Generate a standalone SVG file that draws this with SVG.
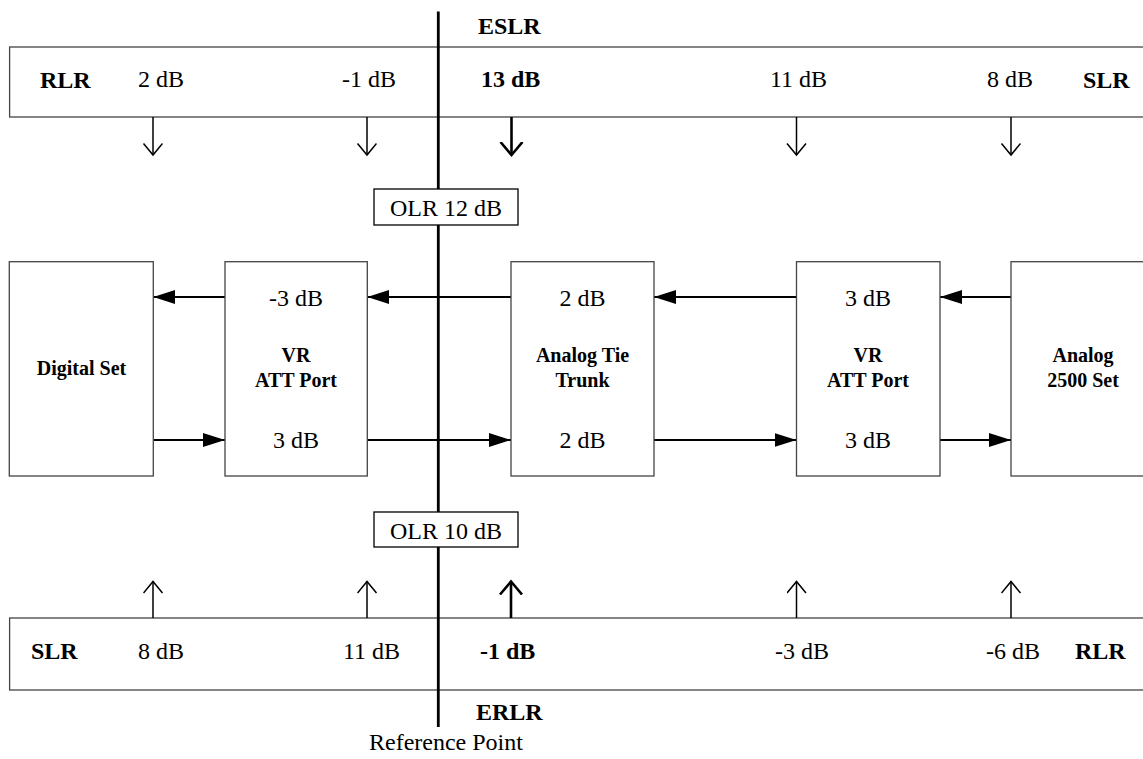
<svg xmlns="http://www.w3.org/2000/svg" width="1143" height="759" viewBox="0 0 1143 759">
<defs>
<style>
.t{font-family:"Liberation Serif","Times New Roman",serif;font-size:24px;fill:#000}
.b{font-weight:bold}
.n{font-family:"Liberation Serif","Times New Roman",serif;font-size:20px;font-weight:bold;fill:#000;text-anchor:middle}
.box{fill:#fff;stroke:#444;stroke-width:1.3}
.ln{stroke:#000;stroke-width:2;fill:none}
.thin{stroke:#000;stroke-width:1.5;fill:none}
.thick{stroke:#000;stroke-width:2.6;fill:none}
.mid{text-anchor:middle}
</style>
<marker id="tri" markerUnits="userSpaceOnUse" markerWidth="22" markerHeight="14" refX="22" refY="7" orient="auto" viewBox="0 0 22 14">
<path d="M0,0 L22,7 L0,14 Z" fill="#000"/>
</marker>
<marker id="vee" markerUnits="userSpaceOnUse" markerWidth="14" markerHeight="22" refX="12" refY="10" orient="auto" viewBox="0 0 14 22">
<path d="M0.5,0.5 L12,10 L0.5,19.5" fill="none" stroke="#000" stroke-width="1.5"/>
</marker>
<marker id="veeB" markerUnits="userSpaceOnUse" markerWidth="16" markerHeight="26" refX="13.5" refY="12" orient="auto" viewBox="0 0 16 26">
<path d="M0.5,1 L13.5,12 L0.5,23" fill="none" stroke="#000" stroke-width="2.6"/>
</marker>
</defs>
<rect width="1143" height="759" fill="#fff"/>

<g id="top-ratings">
<rect class="box" x="9.6" y="47" width="1150" height="70"/>
<text class="t b" x="40" y="88">RLR</text>
<text class="t" x="138" y="87">2 dB</text>
<text class="t" x="342" y="87">-1 dB</text>
<text class="t b" x="481" y="87">13 dB</text>
<text class="t" x="770" y="87">11 dB</text>
<text class="t" x="987" y="87">8 dB</text>
<text class="t b" x="1083" y="88">SLR</text>
</g>

<g id="bottom-ratings">
<rect class="box" x="9.6" y="618" width="1150" height="72"/>
<text class="t b" x="31" y="659">SLR</text>
<text class="t" x="138" y="659">8 dB</text>
<text class="t" x="343" y="659">11 dB</text>
<text class="t b" x="480" y="659">-1 dB</text>
<text class="t" x="775" y="659">-3 dB</text>
<text class="t" x="986" y="659">-6 dB</text>
<text class="t b" x="1075" y="659">RLR</text>
</g>

<g id="reference-line">
<line x1="438.3" y1="11.5" x2="438.3" y2="727" stroke="#000" stroke-width="2.8"/>
<text class="t b" x="478" y="34">ESLR</text>
<text class="t b" x="476" y="720">ERLR</text>
<text class="t" x="369" y="750">Reference Point</text>
</g>

<g id="olr12">
<rect x="374" y="189" width="144" height="36" fill="#fff" stroke="#000" stroke-width="1.3"/>
<text class="t mid" x="446" y="216">OLR 12 dB</text>
</g>
<g id="olr10">
<rect x="374" y="512" width="144" height="35" fill="#fff" stroke="#000" stroke-width="1.3"/>
<text class="t mid" x="446" y="539">OLR 10 dB</text>
</g>

<g id="connectors">
<line class="ln" x1="225" y1="297" x2="153.3" y2="297" marker-end="url(#tri)"/>
<line class="ln" x1="438.3" y1="297" x2="367.3" y2="297"/>
<line class="ln" x1="511" y1="297" x2="367.3" y2="297" marker-end="url(#tri)"/>
<line class="ln" x1="796.5" y1="297" x2="654" y2="297" marker-end="url(#tri)"/>
<line class="ln" x1="1011" y1="297" x2="940" y2="297" marker-end="url(#tri)"/>
<line class="ln" x1="153.3" y1="440" x2="225" y2="440" marker-end="url(#tri)"/>
<line class="ln" x1="367.3" y1="440" x2="511" y2="440" marker-end="url(#tri)"/>
<line class="ln" x1="654" y1="440" x2="796.5" y2="440" marker-end="url(#tri)"/>
<line class="ln" x1="940" y1="440" x2="1011" y2="440" marker-end="url(#tri)"/>
<line class="thin" x1="153" y1="117" x2="153" y2="155" marker-end="url(#vee)"/>
<line class="thin" x1="367" y1="117" x2="367" y2="155" marker-end="url(#vee)"/>
<line class="thick" x1="511.5" y1="117" x2="511.5" y2="155" marker-end="url(#veeB)"/>
<line class="thin" x1="796.5" y1="117" x2="796.5" y2="155" marker-end="url(#vee)"/>
<line class="thin" x1="1011" y1="117" x2="1011" y2="155" marker-end="url(#vee)"/>
<line class="thin" x1="153" y1="618" x2="153" y2="581.5" marker-end="url(#vee)"/>
<line class="thin" x1="367" y1="618" x2="367" y2="581.5" marker-end="url(#vee)"/>
<line class="thick" x1="511" y1="618" x2="511" y2="581.5" marker-end="url(#veeB)"/>
<line class="thin" x1="796.5" y1="618" x2="796.5" y2="581.5" marker-end="url(#vee)"/>
<line class="thin" x1="1011" y1="618" x2="1011" y2="581.5" marker-end="url(#vee)"/>
</g>

<g id="digital-set">
<rect class="box" x="9.3" y="261.7" width="144" height="214.3"/>
<text class="n" x="81.5" y="375">Digital Set</text>
</g>
<g id="vr-att-port-1">
<rect class="box" x="225" y="261.7" width="142.3" height="214.3"/>
<text class="t mid" x="296" y="306">-3 dB</text>
<text class="n" x="296" y="362">VR</text>
<text class="n" x="296" y="387">ATT Port</text>
<text class="t mid" x="296" y="448">3 dB</text>
</g>
<g id="analog-tie-trunk">
<rect class="box" x="511" y="261.7" width="143" height="214.3"/>
<text class="t mid" x="582.5" y="306">2 dB</text>
<text class="n" x="582.5" y="362">Analog Tie</text>
<text class="n" x="582.5" y="387">Trunk</text>
<text class="t mid" x="582.5" y="448">2 dB</text>
</g>
<g id="vr-att-port-2">
<rect class="box" x="796.5" y="261.7" width="143.5" height="214.3"/>
<text class="t mid" x="868" y="306">3 dB</text>
<text class="n" x="868" y="362">VR</text>
<text class="n" x="868" y="387">ATT Port</text>
<text class="t mid" x="868" y="448">3 dB</text>
</g>
<g id="analog-2500-set">
<rect class="box" x="1011" y="261.7" width="144" height="214.3"/>
<text class="n" x="1083" y="362">Analog</text>
<text class="n" x="1083" y="387">2500 Set</text>
</g>
</svg>
